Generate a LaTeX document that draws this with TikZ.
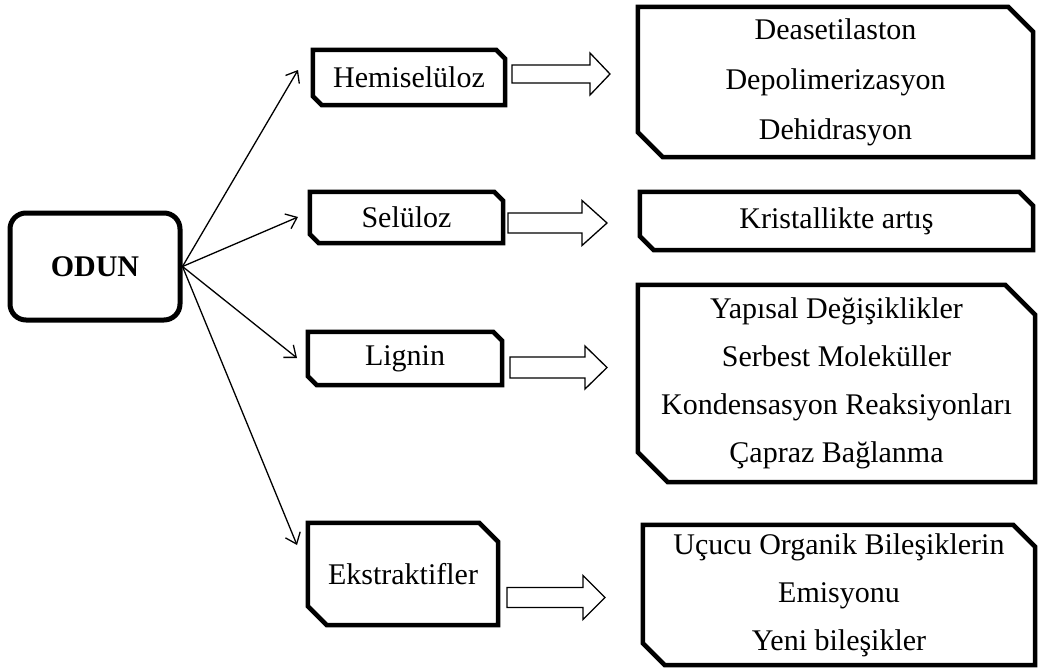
\documentclass[tikz,border=0pt]{standalone}
\usepackage{fontspec}
\setmainfont{Liberation Serif}
\usetikzlibrary{arrows.meta}
\newcommand\snipbox[2]{%
  \draw[boxline] (#1.north west) -- ([xshift=-#2pt]#1.north east) -- ([yshift=-#2pt]#1.north east)
    -- (#1.south east) -- ([xshift=#2pt]#1.south west) -- ([yshift=#2pt]#1.south west) -- cycle;}
\newcommand\harrow[6]{%
  \draw[hollow] (#1,{#4-#5}) -- (#3,{#4-#5}) -- (#3,{#4-#6}) -- (#2,#4) -- (#3,{#4+#6})
    -- (#3,{#4+#5}) -- (#1,{#4+#5}) -- cycle;}
\begin{document}
\begin{tikzpicture}[x=1pt,y=-1pt,
  txt/.style={font=\fontsize{30}{48}\selectfont, align=center, inner sep=0pt},
  boxline/.style={line width=4.5pt, line join=miter},
  conn/.style={line width=1.3pt, -{Straight Barb[length=10pt,width=16pt,line width=1.3pt]}},
  hollow/.style={draw, line width=1.3pt, fill=white, line join=miter}]
\useasboundingbox[fill=white] (0,0) rectangle (1040,670);

% root
\node[draw, line width=5pt, rounded corners=16pt, minimum width=170pt, minimum height=107pt,
      inner sep=0pt, font=\fontsize{30}{36}\selectfont\bfseries] (odun) at (95,266.5) {ODUN};

% left boxes
\node[txt, minimum width=192pt, minimum height=55pt] (hemi) at (409,77.5) {Hemiselüloz};
\node[txt, minimum width=193pt, minimum height=51pt] (sel) at (406.5,217.5) {Selüloz};
\node[txt, minimum width=194pt, minimum height=53pt] (lig) at (405,358.5) {Lignin};
\node[txt, minimum width=190pt, minimum height=102pt] (ekst) at (403,574) {Ekstraktifler};
\snipbox{hemi}{9}
\snipbox{sel}{9}
\snipbox{lig}{9}
\snipbox{ekst}{19}

% right boxes
\node[txt, font=\fontsize{30}{50}\selectfont, minimum width=395pt, minimum height=150pt] (b1) at (835.5,82)
  {Deasetilaston\\Depolimerizasyon\\Dehidrasyon};
\node[txt, minimum width=393pt, minimum height=58pt] (b2) at (836.5,221) {Kristallikte artış};
\node[txt, minimum width=397pt, minimum height=197pt] (b3) at (836.5,383.5)
  {Yapısal Değişiklikler\\Serbest Moleküller\\Kondensasyon Reaksiyonları\\Çapraz Bağlanma};
\node[txt, minimum width=392pt, minimum height=140pt] (b4) at (839,595)
  {Uçucu Organik Bileşiklerin\\Emisyonu\\Yeni bileşikler};
\snipbox{b1}{25}
\snipbox{b2}{14}
\snipbox{b3}{30}
\snipbox{b4}{22}

% fan connectors
\coordinate (t1) at (298,70);
\coordinate (t2) at (298,217);
\coordinate (t3) at (297,358);
\coordinate (t4) at (297,545);
\draw[conn] (odun.east) -- (t1);
\draw[conn] (odun.east) -- (t2);
\draw[conn] (odun.east) -- (t3);
\draw[conn] (odun.east) -- (t4);

% hollow arrows
\harrow{512}{610}{590}{74}{9}{21}
\harrow{508}{607}{582}{223}{10}{22.5}
\harrow{510}{607}{585}{367.5}{10.5}{21.5}
\harrow{507}{605}{583}{597.5}{10}{22}
\end{tikzpicture}
\end{document}
